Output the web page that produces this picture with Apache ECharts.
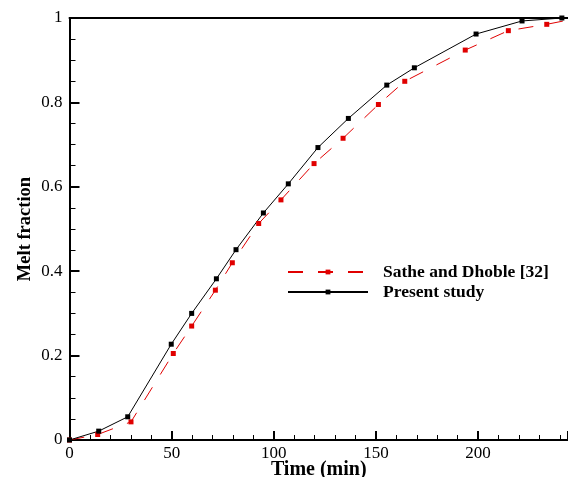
<!DOCTYPE html>
<html>
<head>
<meta charset="utf-8">
<script src="https://cdn.jsdelivr.net/npm/echarts@6/dist/echarts.min.js"></script>
<style>html,body{margin:0;padding:0;background:#fff;overflow:hidden;}#c{width:568px;height:477px;}</style>
</head>
<body>
<div id="c"></div>
<script>
var satheTime = [0, 13.8, 30.1, 50.8, 59.8, 71.4, 79.7, 92.6, 103.5, 119.7, 133.9, 151.2, 164.1, 193.7, 214.8, 233.6, 246];
var satheMelt = [0, 0.013, 0.043, 0.205, 0.27, 0.355, 0.42, 0.513, 0.569, 0.655, 0.715, 0.795, 0.85, 0.924, 0.97, 0.985, 0.997];
var presentTime = [0, 14.3, 28.5, 49.8, 59.8, 71.9, 81.5, 94.9, 107.1, 121.6, 136.5, 155.3, 168.8, 199.0, 221.5, 241.0, 250];
var presentMelt = [0, 0.021, 0.055, 0.227, 0.30, 0.382, 0.451, 0.538, 0.607, 0.693, 0.762, 0.841, 0.882, 0.962, 0.993, 1.0, 1.0];
var seriesNames = ['Sathe and Dhoble [32]', 'Present study'];
var xTitle = 'Time (min)';
var yTitle = 'Melt fraction';

function pairs(a, b) { return a.map(function (v, i) { return [v, b[i]]; }); }

var font = 'Liberation Serif';
var chart = echarts.init(document.getElementById('c'));
chart.setOption({
  animation: false,
  grid: { left: 69.5, top: 18, right: 0, bottom: 37, outerBoundsMode: 'none', containLabel: false },
  legend: {
    orient: 'vertical', left: 282, top: 258, itemWidth: 80, itemHeight: 6, itemGap: 2,
    textStyle: { fontFamily: font, fontWeight: 'bold', fontSize: 17.5, color: '#000', padding: [0, 0, 0, 10] },
    data: seriesNames
  },
  xAxis: [{
    type: 'value', min: 0, max: 244, interval: 50,
    name: xTitle, nameLocation: 'middle', nameGap: 20, nameMoveOverlap: false,
    nameTextStyle: { fontFamily: font, fontWeight: 'bold', fontSize: 20, color: '#000' },
    axisLine: { lineStyle: { color: '#000', width: 2 } },
    axisTick: { inside: true, length: 9, lineStyle: { color: '#000', width: 2 } },
    minorTick: { show: true, splitNumber: 5, length: 5, lineStyle: { color: '#000', width: 1 } },
    axisLabel: { fontFamily: font, fontSize: 17, color: '#000', margin: 5, showMaxLabel: false },
    splitLine: { show: false }
  }, {
    type: 'value', position: 'top', min: 0, max: 244,
    axisLine: { show: true, lineStyle: { color: '#000', width: 2 } },
    axisTick: { show: false }, axisLabel: { show: false }, splitLine: { show: false }
  }],
  yAxis: {
    type: 'value', min: 0, max: 1, interval: 0.2,
    name: yTitle, nameLocation: 'middle', nameGap: 35, nameRotate: 90, nameMoveOverlap: false,
    nameTextStyle: { fontFamily: font, fontWeight: 'bold', fontSize: 18.5, color: '#000' },
    axisLine: { show: true, lineStyle: { color: '#000', width: 2 } },
    axisTick: { inside: true, length: 10, lineStyle: { color: '#000', width: 2 } },
    minorTick: { show: true, splitNumber: 4, length: 6, lineStyle: { color: '#000', width: 1 } },
    axisLabel: { fontFamily: font, fontSize: 17, color: '#000', margin: 7 },
    splitLine: { show: false }
  },
  series: [{
    name: seriesNames[0], type: 'line', data: pairs(satheTime, satheMelt), clip: true,
    symbol: 'rect', symbolSize: 5, showSymbol: true,
    itemStyle: { color: '#e00000' },
    lineStyle: { color: '#e00000', width: 1, type: [15, 15] }
  }, {
    name: seriesNames[1], type: 'line', data: pairs(presentTime, presentMelt), clip: true,
    symbol: 'rect', symbolSize: 5, showSymbol: true,
    itemStyle: { color: '#000' },
    lineStyle: { color: '#000', width: 1 }
  }]
});
</script>
</body>
</html>
